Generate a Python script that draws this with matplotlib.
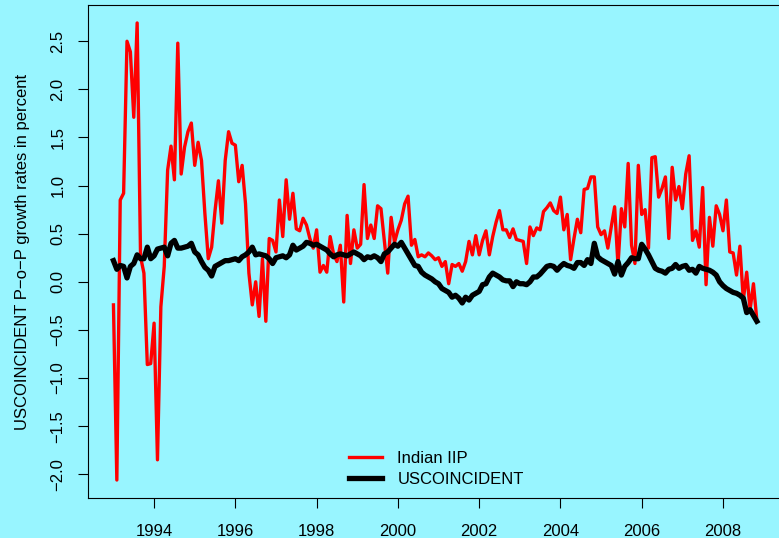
import numpy as np
import matplotlib
matplotlib.use("Agg")
import matplotlib.pyplot as plt

# series start (monthly data)
start_year = 1993
freq = 12

# Indian IIP, period-on-period growth in percent
iip = [-0.24, -2.06, 0.85, 0.92, 2.50, 2.39, 1.71, 2.69, 0.26, 0.09,
       -0.86, -0.85, -0.43, -1.85, -0.26, 0.16, 1.16, 1.41, 1.06, 2.48,
       1.12, 1.40, 1.56, 1.65, 1.21, 1.45, 1.26, 0.71, 0.24, 0.36,
       0.74, 1.05, 0.61, 1.26, 1.56, 1.44, 1.42, 1.04, 1.21, 0.81,
       0.09, -0.24, 0.00, -0.36, 0.24, -0.41, 0.45, 0.43, 0.31, 0.85,
       0.47, 1.06, 0.65, 0.92, 0.55, 0.53, 0.66, 0.59, 0.45, 0.35,
       0.54, 0.10, 0.17, 0.10, 0.47, 0.29, 0.21, 0.38, -0.21, 0.69,
       0.19, 0.54, 0.35, 0.39, 1.01, 0.45, 0.59, 0.45, 0.79, 0.76,
       0.43, 0.09, 0.67, 0.41, 0.54, 0.64, 0.81, 0.89, 0.38, 0.44,
       0.26, 0.28, 0.26, 0.30, 0.27, 0.23, 0.25, 0.16, 0.21, -0.02,
       0.18, 0.16, 0.19, 0.11, 0.21, 0.42, 0.28, 0.48, 0.28, 0.43,
       0.53, 0.28, 0.47, 0.62, 0.74, 0.54, 0.54, 0.46, 0.55, 0.44,
       0.43, 0.42, 0.19, 0.57, 0.48, 0.56, 0.54, 0.73, 0.77, 0.82,
       0.74, 0.71, 0.88, 0.54, 0.70, 0.23, 0.45, 0.65, 0.51, 0.96,
       0.97, 1.09, 1.09, 0.57, 0.49, 0.53, 0.35, 0.57, 0.78, 0.17,
       0.76, 0.57, 1.23, 0.38, 0.19, 1.21, 0.70, 0.75, 0.35, 1.29,
       1.30, 0.88, 0.97, 1.09, 0.45, 1.19, 0.85, 0.99, 0.76, 1.12,
       1.31, 0.43, 0.53, 0.36, 0.98, -0.03, 0.67, 0.37, 0.79, 0.70,
       0.53, 0.85, 0.31, 0.30, 0.07, 0.37, -0.19, 0.10, -0.29, -0.02,
       -0.40]

# US coincident index, period-on-period growth in percent
uscoin = [0.22, 0.13, 0.17, 0.16, 0.04, 0.16, 0.19, 0.28, 0.24, 0.24,
          0.36, 0.24, 0.27, 0.34, 0.35, 0.36, 0.27, 0.40, 0.43, 0.35,
          0.35, 0.36, 0.37, 0.40, 0.31, 0.28, 0.21, 0.15, 0.12, 0.06,
          0.16, 0.18, 0.20, 0.22, 0.22, 0.23, 0.24, 0.22, 0.26, 0.28,
          0.31, 0.36, 0.28, 0.29, 0.28, 0.27, 0.24, 0.19, 0.25, 0.26,
          0.27, 0.25, 0.28, 0.38, 0.33, 0.35, 0.37, 0.41, 0.40, 0.38,
          0.39, 0.37, 0.35, 0.33, 0.29, 0.26, 0.28, 0.29, 0.28, 0.27,
          0.29, 0.31, 0.29, 0.27, 0.23, 0.26, 0.25, 0.27, 0.25, 0.21,
          0.29, 0.31, 0.35, 0.39, 0.37, 0.41, 0.35, 0.29, 0.23, 0.17,
          0.16, 0.10, 0.07, 0.05, 0.03, 0.00, -0.02, -0.07, -0.09, -0.11,
          -0.16, -0.14, -0.17, -0.22, -0.16, -0.19, -0.14, -0.12, -0.10, -0.03,
          -0.02, 0.05, 0.09, 0.07, 0.05, 0.02, 0.01, 0.01, -0.05, 0.00,
          -0.02, -0.02, -0.03, 0.00, 0.05, 0.05, 0.08, 0.12, 0.16, 0.17,
          0.16, 0.12, 0.16, 0.19, 0.17, 0.16, 0.14, 0.20, 0.20, 0.17,
          0.23, 0.19, 0.40, 0.26, 0.23, 0.21, 0.19, 0.17, 0.08, 0.21,
          0.07, 0.16, 0.20, 0.25, 0.24, 0.24, 0.39, 0.34, 0.28, 0.21,
          0.14, 0.12, 0.11, 0.09, 0.13, 0.14, 0.18, 0.14, 0.16, 0.17,
          0.12, 0.13, 0.09, 0.16, 0.14, 0.13, 0.12, 0.10, 0.07, 0.00,
          -0.04, -0.07, -0.09, -0.11, -0.12, -0.14, -0.17, -0.32, -0.29, -0.35,
          -0.41]

xticks = [1994, 1996, 1998, 2000, 2002, 2004, 2006, 2008]
yticks = [-2.0, -1.5, -1.0, -0.5, 0.0, 0.5, 1.0, 1.5, 2.0, 2.5]

t = start_year + np.arange(len(iip)) / freq

plt.rcParams["font.family"] = ["Liberation Sans", "DejaVu Sans"]
plt.rcParams["font.size"] = 12

bg = "#98F5FF"
fig = plt.figure(figsize=(7.79, 5.38), dpi=100, facecolor=bg)
ax = fig.add_axes([0.1126, 0.0738, 0.892, 0.9175], facecolor=bg)

ax.plot(t, iip, color="red", lw=2.4, label="Indian IIP")
ax.plot(t, uscoin, color="black", lw=3.8, label="USCOINCIDENT")

ax.margins(x=0.04, y=0.04)
ax.set_xticks(xticks)
ax.set_yticks(yticks)
ax.set_yticklabels([f"{v:.1f}".replace("-", "\u2212") for v in yticks],
                   rotation=90, va="center")
ax.tick_params(direction="out", length=7.5, width=0.8, colors="black")
ax.tick_params(axis="x", pad=11)
ax.tick_params(axis="y", pad=8.5)
for s in ax.spines.values():
    s.set_linewidth(0.8)

ax.set_ylabel("USCOINCIDENT P\u2212o\u2212P growth rates in percent", labelpad=15)

ax.legend(loc="upper left", bbox_to_anchor=(0.376, 0.096), frameon=False,
          borderpad=0, borderaxespad=0, handlelength=2.0, handletextpad=0.9,
          labelspacing=0.34)

fig.savefig("out.png", dpi=100, facecolor=bg)
